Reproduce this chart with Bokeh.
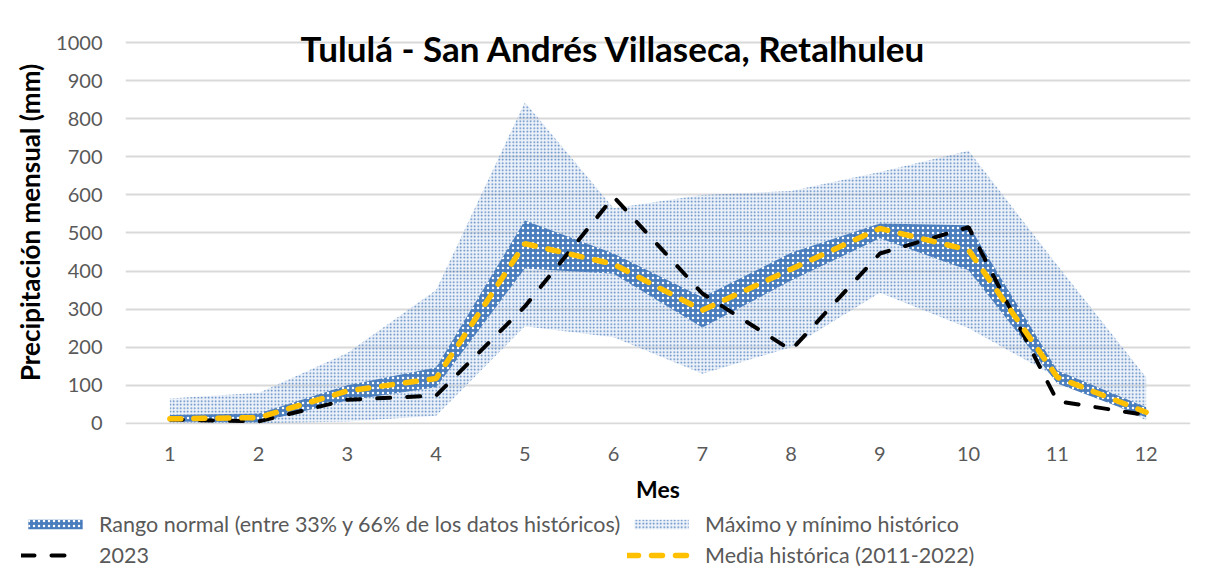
from bokeh.plotting import figure
from bokeh.models import Range1d, FixedTicker, Legend, LegendItem, Label
from bokeh.embed import file_html
from bokeh.resources import INLINE

# ---- data ----
months = [1, 2, 3, 4, 5, 6, 7, 8, 9, 10, 11, 12]
hist_max = [65, 80, 185, 350, 843, 565, 600, 610, 660, 716, 415, 121]
hist_min = [2, 0, 5, 20, 255, 226, 130, 200, 343, 250, 120, 8]
normal_lo = [5, 3, 60, 95, 407, 393, 252, 375, 486, 402, 105, 16]
normal_hi = [22, 26, 100, 147, 533, 446, 331, 448, 525, 520, 139, 42]
mean_hist = [12, 15, 85, 118, 472, 418, 297, 405, 512, 455, 121, 29]
obs_2023 = [10, 5, 62, 73, 307, 595, 341, 192, 446, 515, 58, 22]
y_ticks = [0, 100, 200, 300, 400, 500, 600, 700, 800, 900, 1000]
x_ticks = months

title_text = "Tululá - San Andrés Villaseca, Retalhuleu"
BLUE = "#4A7DBD"
GRID = "#D9D9D9"
TXT = "#595959"
FONT = "Lato"
W = 1208

p = figure(width=W, height=505, output_backend="svg", toolbar_location=None,
           x_range=Range1d(0.5, 12.5), y_range=Range1d(-3, 1058),
           min_border_left=125, min_border_right=W - 1190, min_border_top=20,
           min_border_bottom=81)
p.outline_line_color = None
p.background_fill_color = "white"
p.border_fill_color = "white"

p.xgrid.grid_line_color = None
p.ygrid.grid_line_color = GRID
p.ygrid.grid_line_width = 2
p.yaxis.ticker = FixedTicker(ticks=y_ticks)
p.xaxis.ticker = FixedTicker(ticks=x_ticks)
for ax in (p.xaxis, p.yaxis):
    ax.axis_line_color = None
    ax.major_tick_line_color = None
    ax.minor_tick_line_color = None
    ax.major_tick_out = 0
    ax.major_tick_in = 0
    ax.major_label_text_font = FONT
    ax.major_label_text_font_size = "20px"
    ax.major_label_text_color = TXT
    ax.axis_label_text_font = FONT
    ax.axis_label_text_font_style = "bold"
    ax.axis_label_text_color = "black"
p.yaxis.major_label_standoff = 23
p.xaxis.major_label_standoff = 22
p.yaxis.axis_label = "Precipitación mensual (mm)"
p.yaxis.axis_label_text_font_size = "26px"
p.yaxis.axis_label_standoff = 7
p.xaxis.axis_label = "Mes"
p.xaxis.axis_label_text_font_size = "23px"
p.xaxis.axis_label_standoff = 11

max_style = dict(fill_color="#C5D5EA", fill_alpha=0.3, hatch_pattern="dot",
                 hatch_color=BLUE, hatch_scale=3.5, hatch_weight=1.7)
norm_style = dict(fill_color=BLUE, hatch_pattern="dot", hatch_color="white",
                  hatch_scale=5, hatch_weight=1.3)
obs_style = dict(line_color="black", line_width=4, line_dash="13 17", line_cap="round")
mean_style = dict(line_color="#FFC000", line_width=5.5, line_dash="11 13", line_cap="round")

p.varea(x=months, y1=hist_min, y2=hist_max, **max_style)
p.varea(x=months, y1=normal_lo, y2=normal_hi, **norm_style)
p.line(x=months, y=obs_2023, **obs_style)
p.line(x=months, y=mean_hist, **mean_style)

p.add_layout(Label(x=6.0, y=986, text=title_text, text_align="center",
                   text_baseline="middle", text_font=FONT, text_font_style="bold",
                   text_font_size="35px", text_color="black"))

# ---- legend strip (separate root, frame covers the whole strip) ----
lg = figure(width=W, height=63, output_backend="svg", toolbar_location=None,
            x_range=Range1d(0, 1), y_range=Range1d(0, 1),
            x_axis_type=None, y_axis_type=None, min_border=0)
lg.outline_line_color = None
lg.xgrid.grid_line_color = None
lg.ygrid.grid_line_color = None
# proxy renderers: placed outside the visible range
px, py = [5, 6], [5, 5]
l_max = lg.varea(x=px, y1=py, y2=py, **max_style)
l_norm = lg.varea(x=px, y1=py, y2=py, **norm_style)
l_obs = lg.line(x=px, y=py, **obs_style)
l_mean = lg.line(x=px, y=py, **mean_style)

def mk_legend(label, rend, loc, gw=68):
    leg = Legend(items=[LegendItem(label=label, renderers=[rend])], location=loc,
                 orientation="horizontal", border_line_color=None,
                 background_fill_alpha=0, padding=0, margin=0, spacing=0,
                 glyph_width=gw, glyph_height=12, label_standoff=78 - gw,
                 label_text_font=FONT, label_text_font_size="21.5px",
                 label_text_color=TXT, label_height=24, label_text_baseline="middle")
    lg.add_layout(leg)

mk_legend("Rango normal (entre 33% y 66% de los datos históricos)", l_norm, (21, 31))
mk_legend("Máximo y mínimo histórico", l_max, (627, 31))
mk_legend("2023", l_obs, (21, 0), gw=57)
mk_legend("Media histórica (2011-2022)", l_mean, (627, 0))

open("out.html", "w").write(file_html((p, lg), INLINE))
